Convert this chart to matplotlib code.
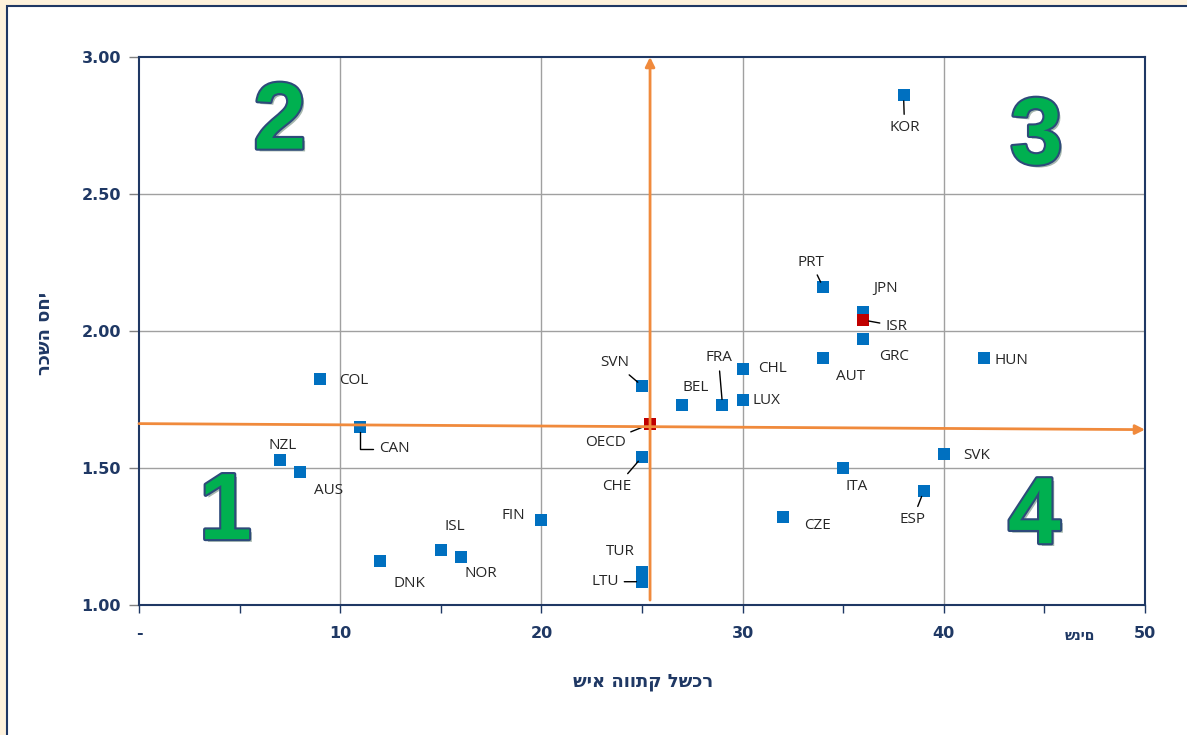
import matplotlib
matplotlib.use("Agg")
import matplotlib.pyplot as plt
import matplotlib.patheffects as pe
from matplotlib.patches import Rectangle

# Countries and their values (x = years, y = wage ratio)
countries = ["KOR", "PRT", "JPN", "GRC", "AUT", "HUN", "CHL", "LUX", "FRA", "BEL",
             "SVN", "CHE", "COL", "CAN", "NZL", "AUS", "FIN", "ISL", "NOR", "DNK",
             "TUR", "LTU", "CZE", "ITA", "ESP", "SVK"]
years = [38, 34, 36, 36, 34, 42, 30, 30, 29, 27,
         25, 25, 9, 11, 7, 8, 20, 15, 16, 12,
         25, 25, 32, 35, 39, 40]
ratio = [2.86, 2.16, 2.07, 1.97, 1.90, 1.90, 1.86, 1.75, 1.73, 1.73,
         1.80, 1.54, 1.825, 1.65, 1.53, 1.485, 1.31, 1.20, 1.175, 1.16,
         1.12, 1.085, 1.32, 1.50, 1.415, 1.55]

# Highlighted points (red)
red_names = ["ISR", "OECD"]
red_years = [36, 25.4]
red_ratio = [2.04, 1.66]

x_ticks = [0, 10, 20, 30, 40, 50]
x_tick_labels = ["-", "10", "20", "30", "40", "50"]
y_ticks = [1.0, 1.5, 2.0, 2.5, 3.0]

NAVY = "#1f3864"
BLUE = "#0070c0"
RED = "#c00000"
ORANGE = "#f08a3c"
GREEN = "#00b050"

# label offsets in pixels (dx, dy) and whether a leader line is drawn
label_pos = {
    "KOR": (1, -32, True), "PRT": (-12, 25, True), "JPN": (22, 23, False),
    "ISR": (33, -6, True), "GRC": (31, -17, False), "AUT": (27, -18, False),
    "HUN": (27, -2, False), "CHL": (30, 1, False), "LUX": (24, -1, False),
    "FRA": (-4, 47, True), "BEL": (13, 17, False), "SVN": (-27, 23, True),
    "OECD": (-45, -18, True), "CHE": (-25, -29, True), "COL": (34, -2, False),
    "CAN": (34, -22, True), "NZL": (3, 14, False), "AUS": (29, -18, False),
    "FIN": (-28, 5, False), "ISL": (14, 24, False), "NOR": (20, -16, False),
    "DNK": (29, -22, False), "TUR": (-22, 21, False), "LTU": (-37, 0, True),
    "CZE": (35, -8, False), "ITA": (13, -18, False), "ESP": (-11, -28, True),
    "SVK": (33, -1, False),
}


def label_point(ax, name, x, y):
    dx, dy, line = label_pos[name]
    props = None
    if line:
        props = dict(arrowstyle="-", color="black", lw=1, shrinkA=2, shrinkB=4)
        # CAN has a bent leader line
        if name == "CAN":
            props["connectionstyle"] = "angle,angleA=0,angleB=90,rad=0"
    ax.annotate(name, (x, y), xytext=(dx, dy), textcoords="offset pixels",
                ha="center", va="center", fontsize=11, color="#262626",
                family=["Open Sans", "DejaVu Sans"], arrowprops=props)


def main():
    fig = plt.figure(figsize=(11.87, 7.35), dpi=100)

    # beige page edge with a navy framed white panel
    fig.patches.append(Rectangle((0, 0), 1, 1, transform=fig.transFigure,
                                 facecolor="#fef2dc", edgecolor="none", zorder=-10))
    fig.patches.append(Rectangle((7 / 1187, -0.05), 1.2, 1 - 6 / 735 + 0.05,
                                 transform=fig.transFigure, facecolor="white",
                                 edgecolor=NAVY, lw=1.5, zorder=-9))

    ax = fig.add_axes([139 / 1187, 1 - 605 / 735, (1145 - 139) / 1187, (605 - 57) / 735])
    ax.set_facecolor("white")
    ax.set_xlim(0, 50)
    ax.set_ylim(1.0, 3.0)

    # grid
    for gx in [10, 20, 30, 40]:
        ax.axvline(gx, color="#a0a0a0", lw=1, zorder=0)
    for gy in [1.5, 2.0, 2.5]:
        ax.axhline(gy, color="#a0a0a0", lw=1, zorder=0)

    for s in ax.spines.values():
        s.set_color(NAVY)
        s.set_linewidth(1.5)

    ax.set_xticks(x_ticks)
    ax.set_xticklabels(x_tick_labels)
    ax.set_xticks(range(0, 51, 5), minor=True)
    ax.set_yticks(y_ticks)
    ax.set_yticklabels(["%.2f" % v for v in y_ticks])
    ax.tick_params(axis="x", which="both", direction="out", length=6, color=NAVY,
                   width=1, pad=9, labelsize=11.5, labelcolor=NAVY)
    ax.tick_params(axis="y", direction="out", length=7, color="#808080",
                   width=1, pad=6, labelsize=11.5, labelcolor=NAVY)
    for t in ax.get_xticklabels() + ax.get_yticklabels():
        t.set_fontweight("bold")

    # blue points
    ax.scatter(years, ratio, marker="s", s=64, color=BLUE, zorder=3, linewidths=0)
    ax.scatter(red_years, red_ratio, marker="s", s=64, color=RED, zorder=3, linewidths=0)

    for n, x, y in zip(countries, years, ratio):
        label_point(ax, n, x, y)
    for n, x, y in zip(red_names, red_years, red_ratio):
        label_point(ax, n, x, y)

    # orange axes through the OECD point
    ox, oy = red_years[1], red_ratio[1]
    ax.annotate("", xy=(50, oy - 0.02), xytext=(0, oy + 0.002),
                arrowprops=dict(arrowstyle="-|>", color=ORANGE, lw=2,
                                mutation_scale=14, shrinkA=0, shrinkB=0),
                zorder=4, annotation_clip=False)
    ax.annotate("", xy=(ox, 3.0), xytext=(ox, 1.018),
                arrowprops=dict(arrowstyle="-|>", color=ORANGE, lw=2,
                                mutation_scale=14, shrinkA=0, shrinkB=0),
                zorder=4, annotation_clip=False)

    # quadrant numbers
    effects = [pe.SimplePatchShadow(offset=(2, -2), alpha=0.35),
               pe.withStroke(linewidth=3, foreground="#2e4a7a")]
    quads = [("2", 7.0, 2.755), ("3", 44.6, 2.70), ("1", 4.3, 1.33), ("4", 44.5, 1.315)]
    for q, qx, qy in quads:
        ax.text(qx, qy, q, fontsize=68, fontweight="bold", color=GREEN,
                ha="center", va="center", path_effects=effects, zorder=2,
                family=["Liberation Sans", "DejaVu Sans"])

    # hebrew titles
    heb = ["DejaVu Sans"]
    fig.text(643 / 1187, 1 - 682 / 735, "שיא הוותק לשכר", ha="center", va="center",
             fontsize=13, fontweight="bold", color=NAVY, family=heb)
    fig.text(1080 / 1187, 1 - 636 / 735, "שנים", ha="center", va="center",
             fontsize=10, fontweight="bold", color=NAVY, family=heb)
    fig.text(45 / 1187, 1 - 333 / 735, "יחס השכר"[::-1], ha="center", va="center",
             rotation=90, fontsize=13, fontweight="bold", color=NAVY, family=heb)

    fig.savefig("out.png", dpi=100)


if __name__ == '__main__':
    main()
